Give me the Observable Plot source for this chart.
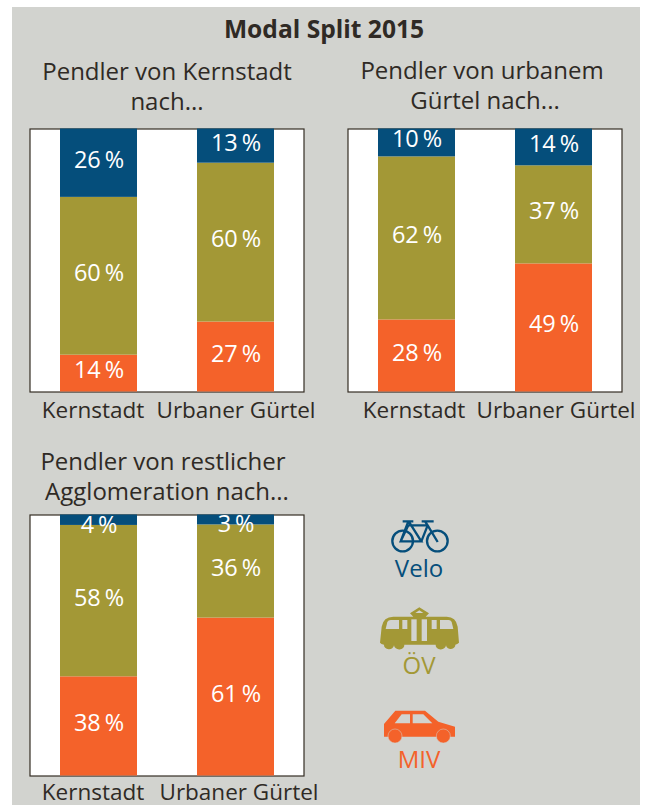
<!DOCTYPE html>
<html lang="de"><head><meta charset="utf-8">
<script src="https://cdn.jsdelivr.net/npm/d3@7"></script>
<script src="https://cdn.jsdelivr.net/npm/@observablehq/plot@0.6"></script>
<style>
html,body{margin:0;padding:0;background:#fff;overflow:hidden}
#page{position:relative;width:645px;height:805px;overflow:hidden;font-family:"Open Sans",sans-serif;color:#2f2a25}
#panel{position:absolute;left:12px;top:7px;width:628px;height:798px;background:#d2d3cf}
.h{position:absolute;text-align:center;white-space:nowrap;transform:translateX(-50%);font-size:24px;line-height:29.5px;font-weight:400}
.h span{position:relative}
#title{position:absolute;left:324px;top:14px;transform:translateX(-50%);font-size:24.6px;line-height:30px;font-weight:700;white-space:nowrap}
.leg{position:absolute;transform:translateX(-50%);font-size:24px;line-height:28px}
.chart{position:absolute;width:330px}
.chart svg{background:transparent;display:block;max-width:none}
</style></head><body>
<div id="page"><div id="panel"></div>
<div id="title">Modal Split 2015</div>
<div class="h" style="left:167px;top:56px">Pendler von Kernstadt<br>nach...</div>
<div class="h" style="left:482px;top:55px">Pendler von urbanem<br><span style="left:3px">Gürtel nach...</span></div>
<div class="h" style="left:165px;top:446px"><span style="left:-2px">Pendler von restlicher</span><br><span style="left:2px">Agglomeration nach...</span></div>
<svg style="position:absolute;left:370px;top:500px" width="110" height="290" viewBox="0 0 330 870">
 <g fill="none" stroke="#054e7b" stroke-width="7">
  <circle cx="98" cy="123" r="31"/><circle cx="202" cy="123" r="31"/>
  <path d="M98 64h32M115 64l-23 60h62l-38-60M115 76h58M92 124l23-48M154 124l19-48M173 76l-8-12M155 64h36M173 76l30 50"/>
 </g>
 <path fill="#a39836" d="M30 428L35 380Q40 350 70 350H130L120 340L148 322L177 340L167 350H230Q258 350 263 380L267 428Q262 432 256 434A14 12 0 0 1 228 436A14 12 0 0 1 197 434H103A14 12 0 0 1 72 436A14 12 0 0 1 42 434Q33 432 30 428Z"/>
 <g fill="#d2d3cf"><path d="M47 387L52 366Q55 360 62 360H87V387Z"/><rect x="97" y="360" width="15" height="27"/><rect x="124" y="358" width="16" height="65"/><rect x="155" y="358" width="16" height="65"/><rect x="185" y="360" width="15" height="27"/><path d="M210 360H236Q242 360 245 366L250 387H210Z"/><path d="M136 339L148 331L160 339Z"/></g>
 <path fill="#f4622a" d="M42 672L76 632H165L205 665L255 680V710H42Z"/>
 <g fill="#d2d3cf"><path d="M74 670L95 643H120V670Z"/><path d="M128 643H160L187 670H128Z"/></g>
 <g fill="#f4622a" stroke="#d2d3cf" stroke-width="1.5"><circle cx="75" cy="708" r="21"/><circle cx="220" cy="708" r="21"/></g>
</svg>
<div class="leg" style="left:419px;top:554px;color:#054e7b">Velo</div>
<div class="leg" style="left:419px;top:651px;color:#a39836">ÖV</div>
<div class="leg" style="left:419px;top:745px;color:#f4622a">MIV</div>
</div>
<script>
const modes = ["MIV", "ÖV", "Velo"];
const modeColors = ["#f4622a", "#a39836", "#054e7b"];
const ziele = ["Kernstadt", "Urbaner Gürtel"];

// bar heights; MIV, ÖV, Velo
const vonKernstadt = [[14, 60, 26], [26.6, 60.4, 13]];
const vonUrban = [[27.4, 62, 10.6], [48.7, 37.3, 14]];
const vonAgglo = [[38, 58, 4], [60.5, 35.7, 3.8]];
// printed labels
const labelKernstadt = [[14, 60, 26], [27, 60, 13]];
const labelUrban = [[28, 62, 10], [49, 37, 14]];
const labelAgglo = [[38, 58, 4], [61, 36, 3]];

function rows(values, labels) {
  return values.flatMap((vs, i) => vs.map((v, j) => ({
    ziel: ziele[i], mode: modes[j], share: v, label: `${labels[i][j]}\u2009%`, printed: labels[i][j]
  })));
}

function panel(values, labels, left, top, h, dxA, dxB, pad) {
  const data = rows(values, labels);
  const stack = {x: "ziel", y: "share", order: null};
  const txt = {...stack, text: "label", fill: "white", fontSize: 23.5, lineAnchor: "middle"};
  const tick = {anchor: "bottom", tickSize: 0, tickPadding: pad, label: null, fontSize: 22.5, fill: "#2f2a25"};
  const chart = Plot.plot({
    width: 274 + 1 + 46, height: h + 1 + 29,
    marginLeft: 0.5, marginRight: 46.5, marginTop: 0.5, marginBottom: 29.5,
    style: {background: "transparent", fontFamily: '"Open Sans",sans-serif', overflow: "visible"},
    x: {domain: ziele, paddingInner: 0.438, paddingOuter: 0.219, align: 0.5, label: null, axis: null},
    y: {domain: [0, 100], axis: null, label: null},
    color: {domain: modes, range: modeColors},
    marks: [
      Plot.frame({stroke: "#352d24", strokeWidth: 1.2, fill: "white"}),
      Plot.barY(data, {...stack, fill: "mode"}),
      Plot.text(data, Plot.filter(d => d.printed >= 5, Plot.stackY({...txt, dy: -3}))),
      Plot.text(data, Plot.filter(d => d.printed < 5, Plot.stackY({...txt, dy: 5}))),
      Plot.axisX([ziele[0]], {...tick, dx: dxA}),
      Plot.axisX([ziele[1]], {...tick, dx: dxB})
    ]
  });
  const box = document.createElement("div");
  box.className = "chart";
  box.style.left = left + "px";
  box.style.top = top + "px";
  box.appendChild(chart);
  document.getElementById("page").appendChild(box);
}

panel(vonKernstadt, labelKernstadt, 29, 128, 263, -6, 0, 10);
panel(vonUrban, labelUrban, 347, 128, 263, -3, 2, 10);
panel(vonAgglo, labelAgglo, 29, 514, 261, -6, 3, 8);
</script>
</body></html>
